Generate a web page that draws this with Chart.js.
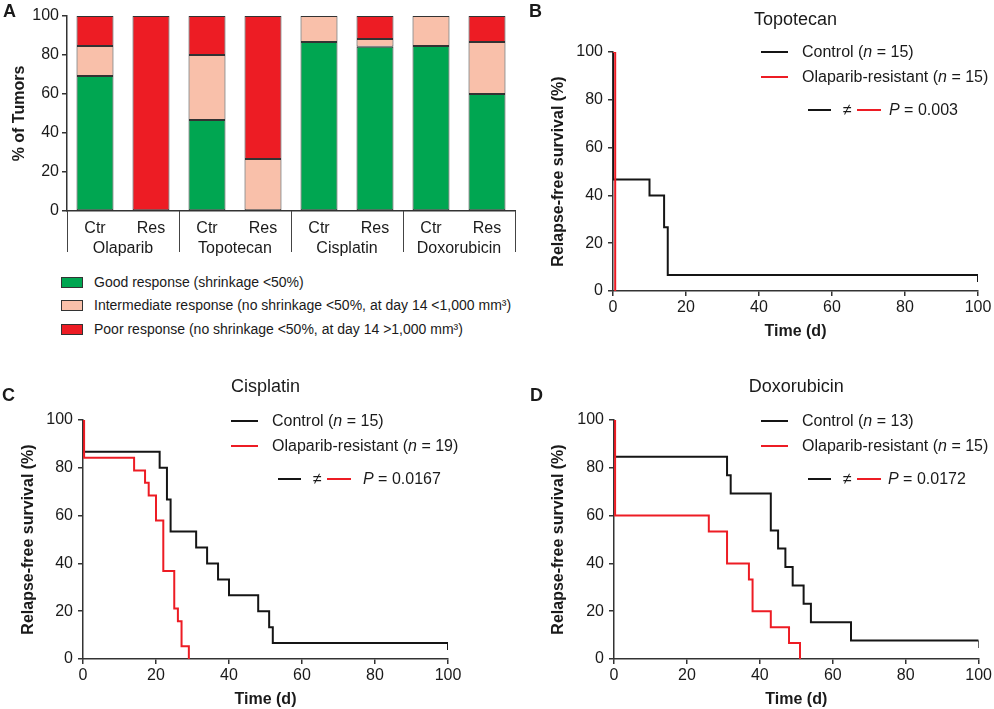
<!doctype html>
<html>
<head>
<meta charset="utf-8">
<script src="https://cdn.jsdelivr.net/npm/chart.js@4.4.1/dist/chart.umd.min.js"></script>
<style>
body { margin:0; background:#fff; width:994px; height:709px; position:relative; overflow:hidden;
       font-family:"Liberation Sans", Arial, sans-serif; color:#1a1a1a; }
canvas { position:absolute; }
.t { position:absolute; white-space:nowrap; line-height:1; }
.letter { font-weight:bold; font-size:18px; }
.sw { position:absolute; height:2px; }
.box { position:absolute; width:22px; height:11px; border:1px solid #333; box-sizing:border-box; }
</style>
<script>
// panel A: tumour response, % of tumours per group
const categories = ['Ctr', 'Res', 'Ctr', 'Res', 'Ctr', 'Res', 'Ctr', 'Res'];
const drugGroups = ['Olaparib', 'Topotecan', 'Cisplatin', 'Doxorubicin'];
const goodPct  = [69.2, 0, 46.7, 0, 86.7, 84.2, 84.6, 60];
const interPct = [15.4, 0, 33.3, 26.7, 13.3, 4.0, 15.4, 26.7];
const poorPct  = [15.4, 100, 20, 73.3, 0, 11.8, 0, 13.3];
const responseLabels = [
  'Good response (shrinkage <50%)',
  'Intermediate response (no shrinkage <50%, at day 14 <1,000 mm³)',
  'Poor response (no shrinkage <50%, at day 14 >1,000 mm³)'
];
const responseColors = ['#00a651', '#f9c0aa', '#ed1c24'];

// panels B-D: relapse-free survival (Kaplan-Meier steps)
const groupNames = ['Control', 'Olaparib-resistant'];
const topoCtrT = [0, 0, 10, 14, 15, 100];
const topoCtrS = [100, 46.7, 40, 26.7, 6.7, 6.7];
const topoResT = [0, 0.6];
const topoResS = [100, 0];
const topoN = [15, 15];
const topoP = '0.003';

const cisCtrT = [0, 0, 21, 23, 24, 31, 34, 37, 40, 48, 51, 52, 100];
const cisCtrS = [100, 86.7, 80, 66.7, 53.3, 46.7, 40, 33.3, 26.7, 20, 13.3, 6.7, 6.7];
const cisResT = [0, 0.3, 14, 17, 18, 20, 22, 25, 26, 27, 29];
const cisResS = [100, 84.2, 78.9, 73.7, 68.4, 57.9, 36.8, 21.1, 15.8, 5.3, 0];
const cisN = [15, 19];
const cisP = '0.0167';

const doxCtrT = [0, 0, 31, 32, 43, 45, 47, 49, 52, 54, 65, 100];
const doxCtrS = [100, 84.6, 76.9, 69.2, 53.8, 46.2, 38.5, 30.8, 23.1, 15.4, 7.7, 7.7];
const doxResT = [0, 0.3, 26, 31, 37, 38, 43, 48, 51];
const doxResS = [100, 60, 53.3, 40, 33.3, 20, 13.3, 6.7, 0];
const doxN = [13, 15];
const doxP = '0.0172';

const ink = '#1a1a1a';
const axisCol = '#333';
const kmColors = ['#151515', '#ed1c24'];

function pts(t, s) { return t.map((v, i) => ({x: v, y: s[i]})); }

// censor mark: short tick hanging down from the last point
function censorMark() {
  const c = document.createElement('canvas');
  c.width = 2; c.height = 14;
  const g = c.getContext('2d');
  g.fillStyle = kmColors[0];
  g.fillRect(0, 7, 2, 7);
  return c;
}

// short vertical dividers under the x axis of panel A
const groupDividers = {
  id: 'groupDividers',
  afterDraw(chart) {
    const x = chart.scales.x, ctx = chart.ctx;
    const bottom = chart.chartArea.bottom;
    ctx.save();
    ctx.strokeStyle = '#444';
    ctx.lineWidth = 1;
    for (let g = 0; g <= drugGroups.length; g++) {
      const px = Math.round(x.left + g * x.width / drugGroups.length) + 0.5;
      ctx.beginPath();
      ctx.moveTo(px, bottom);
      ctx.lineTo(px, bottom + 41);
      ctx.stroke();
    }
    ctx.restore();
  }
};

function drawBars() {
  const sets = [goodPct, interPct, poorPct].map((vals, i) => ({
    label: responseLabels[i],
    data: vals,
    backgroundColor: responseColors[i],
    borderColor: axisCol,
    borderWidth: 1,
    borderSkipped: false,
    xAxisID: 'x',
    categoryPercentage: 1,
    barPercentage: 0.66
  }));
  new Chart(document.getElementById('chartA'), {
    type: 'bar',
    data: {labels: categories, datasets: sets},
    options: {
      responsive: false,
      animation: false,
      layout: {padding: {top: 16, right: 25, left: 0, bottom: 0}},
      plugins: {legend: {display: false}, tooltip: {enabled: false}},
      scales: {
        x: {
          stacked: true, offset: true, weight: 0,
          grid: {display: false, drawTicks: false},
          border: {display: true, color: axisCol, width: 1.5},
          ticks: {padding: 8, color: ink, font: {size: 16}},
          afterFit: s => { s.height = 27; }
        },
        x2: {
          type: 'category', labels: drugGroups, position: 'bottom', offset: true, weight: 1,
          grid: {display: false, drawTicks: false},
          border: {display: false},
          ticks: {padding: 1, color: ink, font: {size: 16}},
          afterFit: s => { s.height = 20; }
        },
        y: {
          stacked: true, min: 0, max: 100,
          ticks: {stepSize: 20, padding: 3, color: ink, font: {size: 16}},
          grid: {drawOnChartArea: false, tickLength: 5, color: axisCol, lineWidth: 1.5},
          border: {color: axisCol, width: 1.5},
          title: {display: true, text: '% of Tumors', color: ink, font: {size: 16, weight: 'bold'}, padding: {top: 10.4, bottom: 0}},
          afterFit: s => { s.width = 67; }
        }
      }
    },
    plugins: [groupDividers]
  });

  // legend under panel A
  const tops = [282, 305, 329];
  responseLabels.forEach((lab, i) => {
    const b = document.createElement('div');
    b.className = 'box';
    b.style.left = '61px';
    b.style.top = (tops[i] - 5.5) + 'px';
    b.style.background = responseColors[i];
    document.body.appendChild(b);
    const t = document.createElement('div');
    t.className = 't';
    t.style.fontSize = '14px';
    t.style.left = '94px';
    t.style.top = (tops[i] - 7) + 'px';
    t.textContent = lab;
    document.body.appendChild(t);
  });
}

function kmChart(id, title, ctrT, ctrS, resT, resS, yWidth, padRight, titleBottom) {
  const mark = censorMark();
  new Chart(document.getElementById(id), {
    type: 'line',
    data: {
      datasets: [
        {
          label: groupNames[0], data: pts(ctrT, ctrS), stepped: true, order: 1,
          borderColor: kmColors[0], borderWidth: 2, fill: false,
          pointStyle: mark,
          pointRadius: c => (c.dataIndex === ctrT.length - 1 ? 4 : 0)
        },
        {
          label: groupNames[1], data: pts(resT, resS), stepped: true, order: 0,
          borderColor: kmColors[1], borderWidth: 2, fill: false, pointRadius: 0
        }
      ]
    },
    options: {
      responsive: false,
      animation: false,
      layout: {padding: {top: 0, right: padRight, left: 0, bottom: 0}},
      plugins: {
        legend: {display: false},
        tooltip: {enabled: false},
        title: {
          display: true, text: title, fullSize: false, color: ink,
          font: {size: 18, weight: 'normal'}, padding: {top: 9, bottom: titleBottom}
        }
      },
      scales: {
        x: {
          type: 'linear', min: 0, max: 100,
          ticks: {stepSize: 20, padding: 2, color: ink, font: {size: 16}, maxRotation: 0},
          grid: {drawOnChartArea: false, tickLength: 5, color: axisCol, lineWidth: 1.5},
          border: {color: axisCol, width: 1.5},
          title: {display: true, text: 'Time (d)', color: ink, font: {size: 16, weight: 'bold'}, padding: {top: 0, bottom: 0}},
          afterFit: s => { s.height = 50; }
        },
        y: {
          min: 0, max: 100,
          ticks: {stepSize: 20, padding: 5, color: ink, font: {size: 16}},
          grid: {drawOnChartArea: false, tickLength: 5, color: axisCol, lineWidth: 1.5},
          border: {color: axisCol, width: 1.5},
          title: {display: true, text: 'Relapse-free survival (%)', color: ink, font: {size: 16, weight: 'bold'}, padding: {top: 19.4, bottom: 0}},
          afterFit: s => { s.width = yWidth; }
        }
      }
    }
  });
}

function kmLegend(x0, y0, ns, pVal, pTextOff) {
  const add = (html, left, top) => {
    const d = document.createElement('div');
    d.className = 't';
    d.style.left = left + 'px';
    d.style.top = top + 'px';
    d.style.fontSize = '16px';
    d.innerHTML = html;
    document.body.appendChild(d);
  };
  const line = (left, width, cy, col) => {
    const d = document.createElement('div');
    d.className = 'sw';
    d.style.left = left + 'px';
    d.style.width = width + 'px';
    d.style.top = (cy - 1) + 'px';
    d.style.background = col;
    document.body.appendChild(d);
  };
  groupNames.forEach((g, i) => {
    const cy = y0 + i * 25;
    line(x0, 27, cy, kmColors[i]);
    add(g + ' (<i>n</i> = ' + ns[i] + ')', x0 + 41, cy - 8);
  });
  const py = y0 + 58;
  line(x0 + 47, 23, py, kmColors[0]);
  add('≠', x0 + 82, py - 8);
  line(x0 + 96, 24, py, kmColors[1]);
  add('<i>P</i> = ' + pVal, x0 + pTextOff, py - 8);
}

function start() {
  Chart.defaults.font.family = '"Liberation Sans", Arial, sans-serif';
  Chart.defaults.color = ink;
  drawBars();
  kmChart('chartB', 'Topotecan', topoCtrT, topoCtrS, topoResT, topoResS, 83, 16, 21.4);
  kmChart('chartC', 'Cisplatin', cisCtrT, cisCtrS, cisResT, cisResS, 83, 22, 22.4);
  kmChart('chartD', 'Doxorubicin', doxCtrT, doxCtrS, doxResT, doxResS, 84, 15, 22.4);
  kmLegend(761, 52, topoN, topoP, 128);
  kmLegend(231, 421, cisN, cisP, 132);
  kmLegend(761, 421, doxN, doxP, 127);
}
</script>
</head>
<body onload="start()">
<canvas id="chartA" width="540" height="258" style="left:0;top:0"></canvas>
<canvas id="chartB" width="464" height="341" style="left:530px;top:0"></canvas>
<canvas id="chartC" width="470" height="342" style="left:0;top:367px"></canvas>
<canvas id="chartD" width="464" height="342" style="left:530px;top:367px"></canvas>

<div class="t letter" style="left:3px;top:2px">A</div>
<div class="t letter" style="left:529px;top:2px">B</div>
<div class="t letter" style="left:2px;top:386px">C</div>
<div class="t letter" style="left:530px;top:386px">D</div>
</body>
</html>
